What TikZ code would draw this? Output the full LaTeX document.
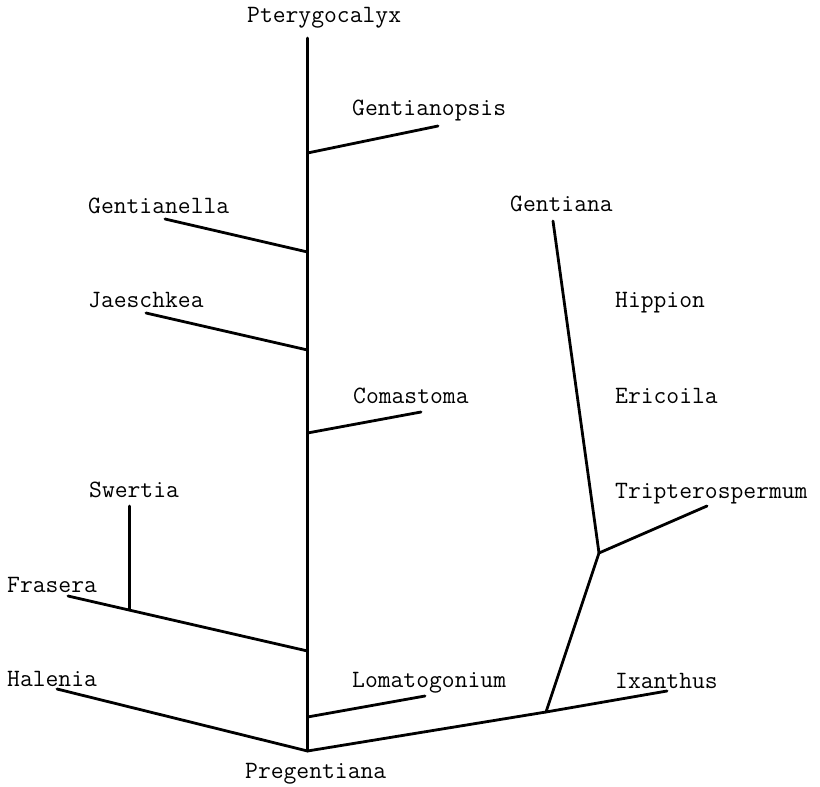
\documentclass[tikz,border=0pt]{standalone}
\usepackage{fontspec}
\begin{document}
\begin{tikzpicture}[x=1pt,y=-1pt,
  lbl/.style={anchor=base west,inner sep=0pt,font=\fontsize{24.9}{28}\selectfont\ttfamily},
  br/.style={line width=2.8pt,line cap=round,line join=round}]
\useasboundingbox (0,0) rectangle (820,787);
% labels
\node[lbl] (pter) at (247,22) {Pterygocalyx};
\node[lbl] (gop) at (352,115) {Gentianopsis};
\node[lbl] (gel) at (88,213) {Gentianella};
\node[lbl] (jae) at (88,307) {Jaeschkea};
\node[lbl] (com) at (353,403) {Comastoma};
\node[lbl] (swe) at (89,497) {Swertia};
\node[lbl] (fra) at (7,592) {Frasera};
\node[lbl] (hal) at (7,686) {Halenia};
\node[lbl] (lom) at (352,687) {Lomatogonium};
\node[lbl] (pre) at (245,778) {Pregentiana};
\node[lbl] (gen) at (510,211) {Gentiana};
\node[lbl] (hip) at (615,307) {Hippion};
\node[lbl] (eri) at (615,403) {Ericoila};
\node[lbl] (tri) at (615,498) {Tripterospermum};
\node[lbl] (ixa) at (615,688) {Ixanthus};
% points
\coordinate (root) at (307.5,751);
\coordinate (top) at (307.5,38);
\coordinate (jgop) at (307.5,153);
\coordinate (egop) at (438,126);
\coordinate (jgel) at (307.5,252);
\coordinate (egel) at (165,219);
\coordinate (jjae) at (307.5,350);
\coordinate (ejae) at (146,313);
\coordinate (jcom) at (307.5,433);
\coordinate (ecom) at (421,412);
\coordinate (jfra) at (307.5,651);
\coordinate (efra) at (68,596);
\coordinate (jswe) at (129.5,609);
\coordinate (eswe) at (129.5,506);
\coordinate (ehal) at (57,689);
\coordinate (jlom) at (307.5,717);
\coordinate (elom) at (425,696);
\coordinate (jixa) at (546,712);
\coordinate (eixa) at (667,691);
\coordinate (jtri) at (599,553);
\coordinate (etri) at (707,506);
\coordinate (egen) at (553,221);
% branches
\draw[br] (root) -- (top);
\draw[br] (jgop) -- (egop);
\draw[br] (jgel) -- (egel);
\draw[br] (jjae) -- (ejae);
\draw[br] (jcom) -- (ecom);
\draw[br] (jfra) -- (efra);
\draw[br] (jswe) -- (eswe);
\draw[br] (root) -- (ehal);
\draw[br] (jlom) -- (elom);
\draw[br] (root) -- (jixa) -- (eixa);
\draw[br] (jixa) -- (jtri) -- (etri);
\draw[br] (jtri) -- (egen);
\end{tikzpicture}
\end{document}
